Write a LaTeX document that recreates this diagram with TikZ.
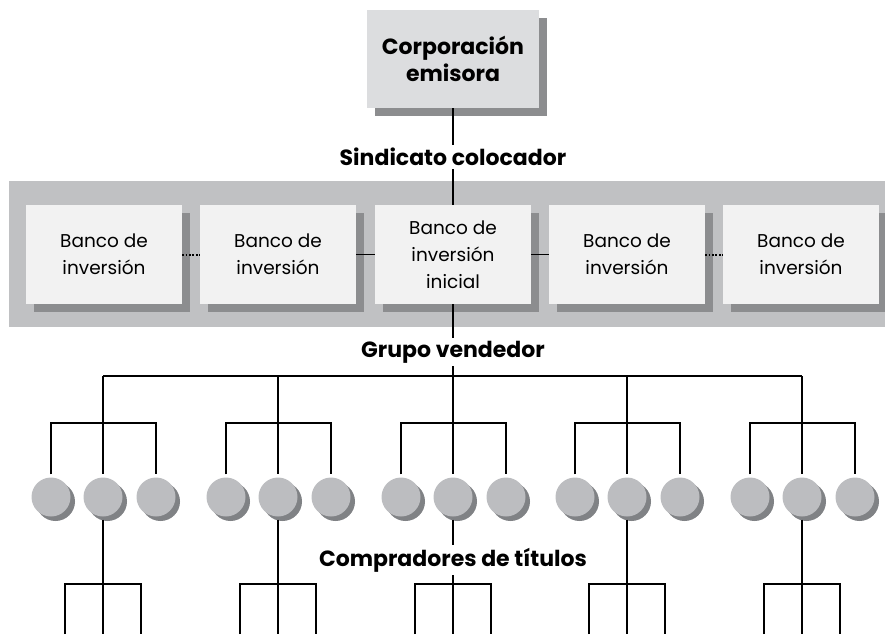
\documentclass[tikz,border=0pt]{standalone}
\usepackage{fontspec}
\setmainfont{Poppins}
\usetikzlibrary{shadows,calc}
\definecolor{topfill}{HTML}{DCDDDF}
\definecolor{boxshadow}{HTML}{8C8D8F}
\definecolor{bandgray}{HTML}{C0C1C3}
\definecolor{boxfill}{HTML}{F2F2F2}
\definecolor{ballfill}{HTML}{BCBDC0}
\definecolor{ballshadow}{HTML}{808285}
\begin{document}
\begin{tikzpicture}[x=1pt,y=-1pt,
  conn/.style={line width=1.9pt, black},
  dotconn/.style={line width=2pt, black, dash pattern=on 1.8pt off 1.6pt},
  corpbox/.style={rectangle, fill=topfill, minimum width=172pt, minimum height=98pt, inner sep=0pt, align=center,
    font=\bfseries\fontsize{22}{27}\selectfont,
    general shadow={fill=boxshadow, shadow xshift=8pt, shadow yshift=-8pt}},
  bankbox/.style={rectangle, fill=boxfill, minimum width=156pt, minimum height=99pt, inner sep=0pt, align=center,
    font=\fontsize{18.5}{27}\selectfont,
    general shadow={fill=boxshadow, shadow xshift=8pt, shadow yshift=-8pt}},
  lbl/.style={font=\bfseries\fontsize{22}{24}\selectfont, inner sep=3pt},
  ball/.style={circle, fill=ballfill, minimum size=39pt, inner sep=0pt,
    general shadow={fill=ballshadow, shadow xshift=4.5pt, shadow yshift=-4.5pt}}
]
\useasboundingbox (0,0) rectangle (885,634);
\fill[bandgray] (9,181) rectangle (890,327);

\node[corpbox] (corp) at (453,59) {Corporación\\emisora};
\node[lbl] (sind) at (453,157) {Sindicato colocador};
\node[lbl] (grupo) at (453,352) {Grupo vendedor};
\node[lbl] (comp) at (453,560) {Compradores de títulos};

\node[bankbox] (bk1) at (104,254.5) {Banco de\\inversión};
\node[bankbox] (bk2) at (278,254.5) {Banco de\\inversión};
\node[bankbox] (bk3) at (453,254.5) {Banco de\\inversión\\inicial};
\node[bankbox] (bk4) at (627,254.5) {Banco de\\inversión};
\node[bankbox] (bk5) at (801,254.5) {Banco de\\inversión};

\draw[dotconn] (bk1.east) -- (bk2.west);
\draw[conn] (bk2.east) -- (bk3.west);
\draw[conn] (bk3.east) -- (bk4.west);
\draw[dotconn] (bk4.east) -- (bk5.west);

\draw[conn] (corp.south) -- (sind.north);
\draw[conn] (sind.south) -- (bk3.north);
\draw[conn] (bk3.south) -- (grupo.north);

\foreach \i/\gx in {1/103,2/278,3/453,4/627,5/802}{
  \coordinate (g\i) at (\gx,376);
  \coordinate (h\i) at (\gx,423);
  \coordinate (k\i) at (\gx,584);
  \node[ball] (b\i1) at (\gx-52,497) {};
  \node[ball] (b\i2) at (\gx,497) {};
  \node[ball] (b\i3) at (\gx+53,497) {};
  \coordinate (e\i1) at (\gx-38,634);
  \coordinate (e\i2) at (\gx,634);
  \coordinate (e\i3) at (\gx+38,634);
  \draw[conn, shorten >=3pt] (g\i) -- (b\i2.north);
  \draw[conn, shorten <=3pt, shorten >=3pt] (b\i1.north) |- (h\i) -| (b\i3.north);
  \draw[conn] (e\i1) |- (k\i) -| (e\i3);
}
\draw[conn] (grupo.south) -- (g3);
\draw[conn] (g1) -- (g5);
\draw[conn, shorten <=3pt] (b12.south) -- (e12);
\draw[conn, shorten <=3pt] (b22.south) -- (e22);
\draw[conn, shorten <=3pt] (b32.south) -- (comp.north);
\draw[conn] (comp.south) -- (e32);
\draw[conn, shorten <=3pt] (b42.south) -- (e42);
\draw[conn, shorten <=3pt] (b52.south) -- (e52);
\end{tikzpicture}
\end{document}
